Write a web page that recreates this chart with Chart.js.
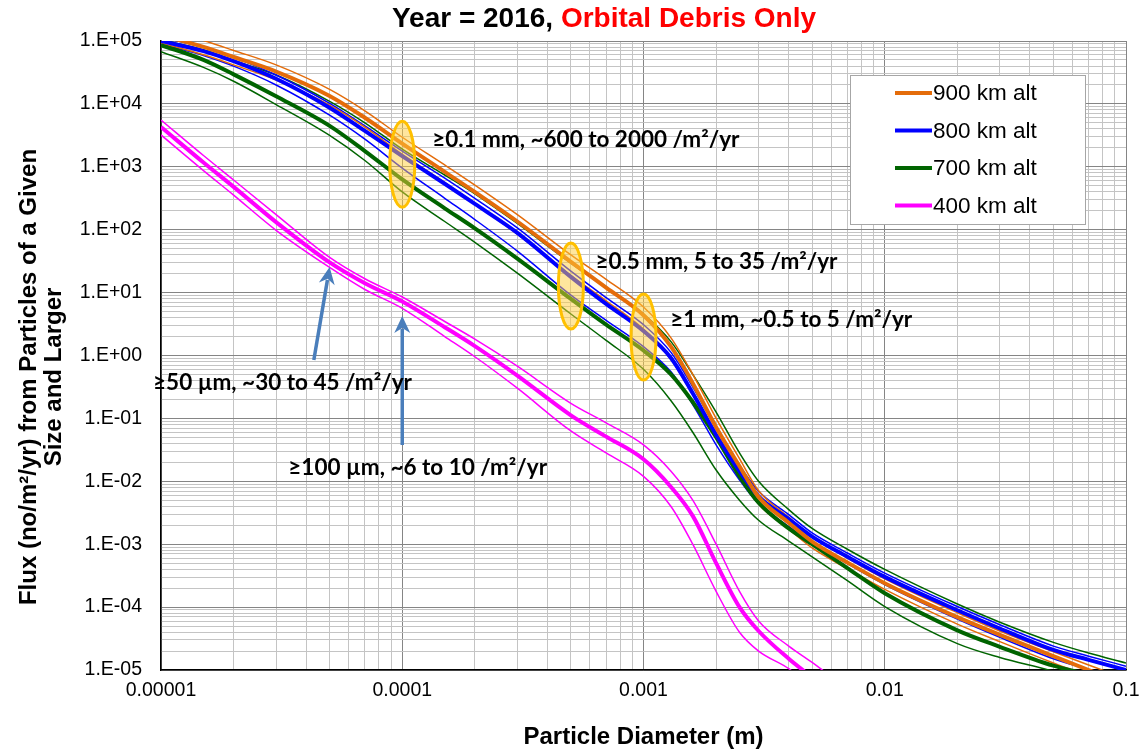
<!DOCTYPE html>
<html>
<head>
<meta charset="utf-8">
<title>Orbital Debris Flux 2016</title>
<script src="https://cdn.jsdelivr.net/npm/chart.js@4.4.1/dist/chart.umd.min.js"></script>
<style>
  html, body { margin: 0; padding: 0; background: #fff; }
  canvas { display: block; }
</style>
</head>
<body>
<canvas id="fluxChart" width="1143" height="750"></canvas>
<script>
// particle diameter (m), shared by every curve
const diameters = [1e-5, 1.5e-5, 2e-5, 3e-5, 5e-5, 7e-5, 1e-4, 1.5e-4, 2e-4, 3e-4, 5e-4, 7e-4,
    1e-3, 1.3e-3, 1.6e-3, 2e-3, 2.5e-3, 3e-3, 4e-3, 5e-3, 7e-3, 1e-2, 2e-2, 3e-2, 5e-2, 7e-2, 1e-1];

// flux (no/m2/yr): nominal curve plus thin upper / lower bounds
const flux900 = [1.24e5, 8.04e4, 5.57e4, 3.27e4, 1.34e4, 6.03e3, 2.34e3, 832, 398, 135, 30.9, 12.0,
    4.37, 1.38, 0.363, 0.0724, 0.0174, 5.62e-3, 2.19e-3, 1.10e-3, 5.13e-4, 2.40e-4, 6.92e-5, 3.63e-5, 1.66e-5, 1.0e-5, 5.89e-6];
const flux900Upper = [1.58e5, 1.02e5, 7.08e4, 4.17e4, 1.70e4, 7.76e3, 2.95e3, 1.07e3, 513, 174, 39.8, 16.2,
    5.89, 1.91, 0.501, 0.1, 0.0229, 7.08e-3, 2.69e-3, 1.32e-3, 6.03e-4, 2.82e-4, 8.13e-5, 4.17e-5, 1.95e-5, 1.20e-5, 7.24e-6];
const flux900Lower = [9.33e4, 6.03e4, 4.17e4, 2.40e4, 9.55e3, 4.27e3, 1.58e3, 562, 263, 85.1, 18.6, 7.41,
    2.63, 0.871, 0.240, 0.0501, 0.0126, 4.37e-3, 1.74e-3, 8.71e-4, 4.07e-4, 1.91e-4, 5.37e-5, 2.82e-5, 1.29e-5, 7.94e-6, 4.68e-6];

const flux800 = [1.0e5, 6.92e4, 4.79e4, 2.51e4, 8.71e3, 3.72e3, 1.48e3, 537, 257, 89.1, 17.8, 6.61,
    2.45, 0.912, 0.251, 0.0550, 0.0145, 5.75e-3, 2.51e-3, 1.32e-3, 6.31e-4, 3.02e-4, 8.91e-5, 4.57e-5, 2.09e-5, 1.45e-5, 1.0e-5];
const flux800Upper = [1.15e5, 7.94e4, 5.50e4, 2.88e4, 1.02e4, 4.47e3, 1.78e3, 661, 316, 107, 21.9, 8.32,
    3.09, 1.12, 0.316, 0.0692, 0.0178, 6.92e-3, 2.95e-3, 1.51e-3, 7.24e-4, 3.47e-4, 1.02e-4, 5.25e-5, 2.40e-5, 1.66e-5, 1.15e-5];
const flux800Lower = [8.91e4, 5.89e4, 3.98e4, 2.0e4, 6.61e3, 2.75e3, 955, 316, 145, 45.7, 9.12, 3.63,
    1.38, 0.550, 0.166, 0.0380, 0.0105, 4.37e-3, 1.91e-3, 1.05e-3, 4.90e-4, 2.29e-4, 6.46e-5, 3.31e-5, 1.51e-5, 1.02e-5, 6.76e-6];

const flux700 = [8.63e4, 5.01e4, 2.95e4, 1.32e4, 4.47e3, 1.78e3, 631, 219, 105, 34.7, 7.94, 3.09,
    1.20, 0.501, 0.182, 0.0501, 0.0120, 4.57e-3, 1.78e-3, 1.0e-3, 4.17e-4, 1.66e-4, 4.27e-5, 2.34e-5, 1.17e-5, 8.32e-6, 5.37e-6];
const flux700Upper = [1.05e5, 7.24e4, 4.90e4, 2.88e4, 1.10e4, 5.01e3, 1.91e3, 741, 372, 126, 29.5, 12.0,
    4.57, 1.66, 0.501, 0.126, 0.0282, 0.01, 3.55e-3, 1.78e-3, 8.32e-4, 3.98e-4, 1.12e-4, 5.75e-5, 2.75e-5, 1.86e-5, 1.29e-5];
const flux700Lower = [6.76e4, 3.80e4, 2.29e4, 9.77e3, 3.16e3, 1.26e3, 398, 135, 63.1, 20.4, 4.57, 1.74,
    0.603, 0.191, 0.0603, 0.0151, 5.01e-3, 2.40e-3, 1.12e-3, 6.31e-4, 2.63e-4, 1.02e-4, 2.63e-5, 1.58e-5, 9.55e-6, 6.31e-6, 4.17e-6];

const flux400 = [4.30e3, 1.17e3, 479, 132, 30.2, 14.1, 7.24, 2.82, 1.41, 0.479, 0.112, 0.0513,
    0.0224, 8.13e-3, 2.82e-3, 5.01e-4, 1.0e-4, 4.17e-5, 1.51e-5, 7.59e-6, 2.51e-6, null, null, null, null, null, null];
const flux400Upper = [5.55e3, 1.51e3, 617, 174, 36.3, 16.6, 8.51, 3.47, 1.82, 0.676, 0.174, 0.0851,
    0.0380, 0.0145, 5.01e-3, 1.0e-3, 1.78e-4, 6.03e-5, 2.40e-5, 1.32e-5, 5.01e-6, null, null, null, null, null, null];
const flux400Lower = [3.21e3, 871, 355, 97.7, 25.1, 11.2, 5.62, 2.0, 0.955, 0.302, 0.0631, 0.0282,
    0.0120, 3.98e-3, 1.0e-3, 1.78e-4, 3.98e-5, 2.0e-5, 1.05e-5, 5.25e-6, 1.78e-6, null, null, null, null, null, null];

const seriesNames = ["900 km alt", "800 km alt", "700 km alt", "400 km alt"];
const seriesColors = ["#E46C0A", "#0000FF", "#006400", "#FF00FF"];

const xTickLabels = ["0.00001", "0.0001", "0.001", "0.01", "0.1"];
const yTickLabels = ["1.E-05", "1.E-04", "1.E-03", "1.E-02", "1.E-01", "1.E+00",
    "1.E+01", "1.E+02", "1.E+03", "1.E+04", "1.E+05"];

// callouts, placed in data coordinates
const ellipseCenters = [[1e-4, 1100], [5e-4, 12.7], [1e-3, 1.97]];
const arrowLines = [[[4.3e-5, 0.85], [5.0e-5, 25.5]], [[1e-4, 0.0378], [1e-4, 4.25]]];
const calloutTexts = ["≥0.1 mm, ~600 to 2000 /m²/yr", "≥0.5 mm, 5 to 35 /m²/yr", "≥1 mm, ~0.5 to 5 /m²/yr",
    "≥50 µm, ~30 to 45 /m²/yr", "≥100 µm, ~6 to 10 /m²/yr"];
const calloutAnchors = [[1.33e-4, 2670], [6.32e-4, 30.6], [1.29e-3, 3.66], [9.27e-6, 0.366], [3.37e-5, 0.0163]];

const ARIAL = "'Liberation Sans', Arial, sans-serif";

function toPoints(values) {
    return diameters.map((d, i) => ({ x: d, y: values[i] })).filter(p => p.y !== null);
}

function logTicks(minExp, maxExp) {
    const vals = [];
    for (let e = minExp; e < maxExp; e++) {
        for (let k = 1; k <= 9; k++) {
            vals.push(k * Math.pow(10, e));
        }
    }
    vals.push(Math.pow(10, maxExp));
    return vals;
}

function isDecade(v) {
    const l = Math.log10(v);
    return Math.abs(l - Math.round(l)) < 1e-9;
}

function line(data, color, width) {
    return {
        data: toPoints(data),
        borderColor: color,
        borderWidth: width,
        pointRadius: 0,
        fill: false,
        cubicInterpolationMode: "monotone"
    };
}

const datasets = [
    line(flux900, seriesColors[0], 4),
    line(flux800, seriesColors[1], 4),
    line(flux700, seriesColors[2], 4),
    line(flux400, seriesColors[3], 4),
    line(flux900Upper, seriesColors[0], 1.5),
    line(flux900Lower, seriesColors[0], 1.5),
    line(flux800Upper, seriesColors[1], 1.5),
    line(flux800Lower, seriesColors[1], 1.5),
    line(flux700Upper, seriesColors[2], 1.5),
    line(flux700Lower, seriesColors[2], 1.5),
    line(flux400Upper, seriesColors[3], 1.5),
    line(flux400Lower, seriesColors[3], 1.5)
];

function drawArrow(ctx, x1, y1, x2, y2) {
    const ang = Math.atan2(y2 - y1, x2 - x1);
    const len = 17, half = 8;
    const bx = x2 - len * Math.cos(ang), by = y2 - len * Math.sin(ang);
    ctx.strokeStyle = "#4A7EBB";
    ctx.fillStyle = "#4A7EBB";
    ctx.lineWidth = 3.5;
    ctx.beginPath();
    ctx.moveTo(x1, y1);
    ctx.lineTo(bx + 4 * Math.cos(ang), by + 4 * Math.sin(ang));
    ctx.stroke();
    ctx.beginPath();
    ctx.moveTo(x2, y2);
    ctx.lineTo(bx - half * Math.sin(ang), by + half * Math.cos(ang));
    ctx.lineTo(bx + 5 * Math.cos(ang), by + 5 * Math.sin(ang));
    ctx.lineTo(bx + half * Math.sin(ang), by - half * Math.cos(ang));
    ctx.closePath();
    ctx.fill();
}

const calloutPlugin = {
    id: "callouts",
    afterDatasetsDraw(chart) {
        const { ctx, scales: { x, y }, chartArea } = chart;
        ctx.save();

        ellipseCenters.forEach(([dx, dy]) => {
            ctx.beginPath();
            ctx.ellipse(x.getPixelForValue(dx), y.getPixelForValue(dy), 12.5, 43, 0, 0, Math.PI * 2);
            ctx.fillStyle = "rgba(255, 205, 60, 0.5)";
            ctx.fill();
            ctx.lineWidth = 3;
            ctx.strokeStyle = "#FFC000";
            ctx.stroke();
        });

        arrowLines.forEach(([from, to]) => {
            drawArrow(ctx, x.getPixelForValue(from[0]), y.getPixelForValue(from[1]),
                x.getPixelForValue(to[0]), y.getPixelForValue(to[1]));
        });

        ctx.fillStyle = "#000";
        ctx.font = "bold 22.5px Lato, 'Open Sans', sans-serif";
        ctx.textAlign = "left";
        ctx.textBaseline = "middle";
        calloutTexts.forEach((t, i) => {
            const [ax, ay] = calloutAnchors[i];
            ctx.fillText(t, x.getPixelForValue(ax), y.getPixelForValue(ay));
        });

        // legend box
        const bx = chartArea.right - 276, by = chartArea.top + 34;
        ctx.fillStyle = "#fff";
        ctx.fillRect(bx, by, 235, 149);
        ctx.strokeStyle = "#a6a6a6";
        ctx.lineWidth = 1;
        ctx.strokeRect(bx + 0.5, by + 0.5, 235, 149);
        ctx.font = "22.5px " + ARIAL;
        seriesNames.forEach((name, i) => {
            const ly = by + 18 + i * 37.5;
            ctx.strokeStyle = seriesColors[i];
            ctx.lineWidth = 4;
            ctx.beginPath();
            ctx.moveTo(bx + 45, ly);
            ctx.lineTo(bx + 82, ly);
            ctx.stroke();
            ctx.fillStyle = "#000";
            ctx.fillText(name, bx + 83, ly + 1);
        });
        ctx.restore();
    },
    afterDraw(chart) {
        const { ctx } = chart;
        ctx.save();
        // two-colour title
        ctx.font = "bold 28px " + ARIAL;
        ctx.textBaseline = "middle";
        ctx.textAlign = "left";
        const partA = "Year = 2016, ", partB = "Orbital Debris Only";
        const wA = ctx.measureText(partA).width, wB = ctx.measureText(partB).width;
        const tx = 604 - (wA + wB) / 2;
        ctx.fillStyle = "#000";
        ctx.fillText(partA, tx, 19);
        ctx.fillStyle = "#FF0000";
        ctx.fillText(partB, tx + wA, 19);

        // y axis title, two lines
        ctx.fillStyle = "#000";
        ctx.font = "bold 24px " + ARIAL;
        ctx.textAlign = "center";
        [["Flux (no/m²/yr) from Particles of a Given", 29], ["Size and Larger", 54]].forEach(([t, cx]) => {
            ctx.save();
            ctx.translate(cx, 377);
            ctx.rotate(-Math.PI / 2);
            ctx.fillText(t, 0, 0);
            ctx.restore();
        });
        ctx.restore();
    }
};

new Chart(document.getElementById("fluxChart"), {
    type: "line",
    data: { datasets },
    options: {
        responsive: false,
        animation: false,
        devicePixelRatio: 1,
        layout: { padding: { top: 41, right: 17, bottom: 0, left: 0 } },
        plugins: {
            legend: { display: false },
            tooltip: { enabled: false },
            title: { display: false }
        },
        scales: {
            x: {
                type: "logarithmic",
                min: 1e-5,
                max: 0.1,
                afterBuildTicks: s => { s.ticks = logTicks(-5, -1).map(v => ({ value: v })); },
                afterFit: s => { s.height = 80; s.paddingLeft = 0; s.paddingRight = 0; },
                ticks: {
                    autoSkip: false,
                    maxRotation: 0,
                    padding: 9,
                    color: "#000",
                    font: { family: ARIAL, size: 19.5 },
                    callback: v => isDecade(v) ? xTickLabels[Math.round(Math.log10(v)) + 5] : ""
                },
                grid: {
                    color: c => (c.tick && isDecade(c.tick.value)) ? "#858585" : "#c4c4c4",
                    lineWidth: 1,
                    drawTicks: false
                },
                border: { color: "#000", width: 1.5 },
                title: {
                    display: true,
                    text: "Particle Diameter (m)",
                    color: "#000",
                    font: { family: ARIAL, size: 24, weight: "bold", lineHeight: 1.05 },
                    padding: { top: 0, bottom: 0 }
                }
            },
            y: {
                type: "logarithmic",
                min: 1e-5,
                max: 1e5,
                afterBuildTicks: s => { s.ticks = logTicks(-5, 5).map(v => ({ value: v })); },
                afterFit: s => { s.width = 161; s.paddingTop = 0; s.paddingBottom = 0; },
                ticks: {
                    autoSkip: false,
                    padding: 19,
                    color: "#000",
                    font: { family: ARIAL, size: 19.5 },
                    callback: v => isDecade(v) ? yTickLabels[Math.round(Math.log10(v)) + 5] : ""
                },
                grid: {
                    color: c => (c.tick && isDecade(c.tick.value)) ? "#858585" : "#c4c4c4",
                    lineWidth: 1,
                    drawTicks: false
                },
                border: { color: "#000", width: 1.5 }
            }
        }
    },
    plugins: [calloutPlugin]
});
</script>
</body>
</html>
